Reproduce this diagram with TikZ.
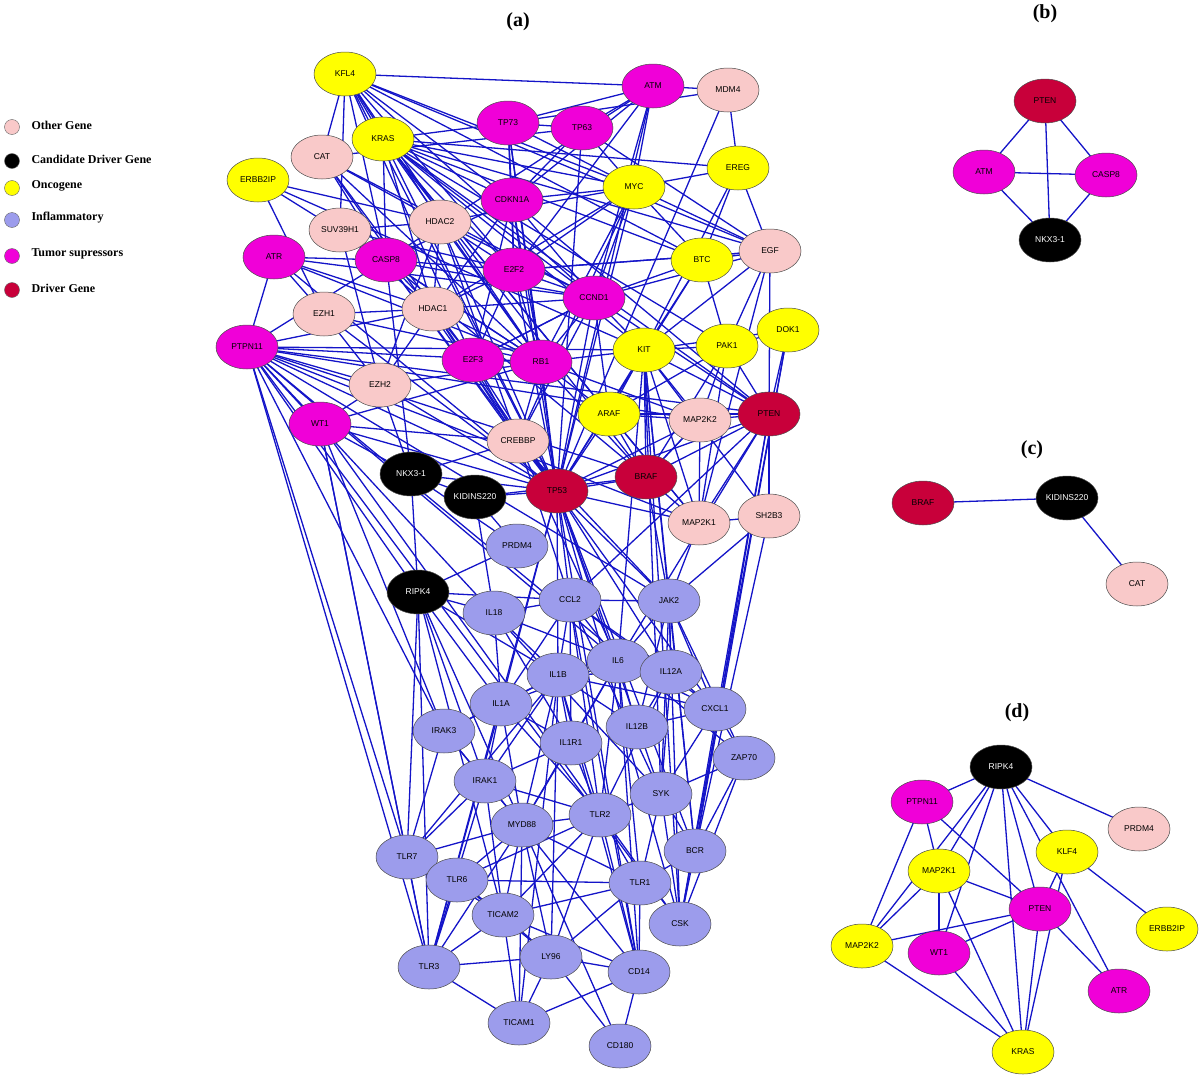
\documentclass[tikz,border=0pt]{standalone}
\usepackage{fontspec}
\setmainfont{Liberation Sans}
\newfontfamily\ser{Liberation Serif}
\usetikzlibrary{backgrounds,shapes.geometric}
\definecolor{cpk}{HTML}{F9C9C9}
\definecolor{cyl}{HTML}{FFFF00}
\definecolor{clv}{HTML}{9C9CEC}
\definecolor{cmg}{HTML}{F000D8}
\definecolor{crd}{HTML}{C8003A}
\definecolor{ced}{HTML}{1414C8}
\begin{document}
\begin{tikzpicture}[x=1pt,y=-1pt,
 g/.style={ellipse,draw=black!70,line width=0.5pt,minimum width=62pt,minimum height=44pt,inner sep=0pt,font=\fontsize{8.5}{9}\selectfont},
 pk/.style={g,fill=cpk}, yl/.style={g,fill=cyl}, lv/.style={g,fill=clv},
 mg/.style={g,fill=cmg}, rd/.style={g,fill=crd}, bk/.style={g,fill=black,text=white},
 e/.style={draw=ced,line width=1.3pt},
 lab/.style={font=\ser\bfseries\fontsize{20}{22}\selectfont},
 leg/.style={anchor=west,font=\ser\bfseries\fontsize{12}{13}\selectfont}]
\useasboundingbox (0,0) rectangle (1200,1076);
% legend
\foreach \y/\c/\t in {127/cpk/Other Gene,161/black/Candidate Driver Gene,188/cyl/Oncogene,220/clv/Inflammatory,256/cmg/Tumor supressors,290/crd/Driver Gene}
 {\fill[\c,draw=black!60,line width=0.4pt] (12,\y) circle (7.5); \node[leg] at (28,\y-2) {\t};}
\node[lab] (la) at (518,22) {(a)};
\node[lab] (lb) at (1045,14) {(b)};
\node[lab] (lc) at (1032,450) {(c)};
\node[lab] (ld) at (1017,713) {(d)};
% panel a
\node[yl] (KFL4) at (345,74) {KFL4};
\node[mg] (ATM) at (653,86) {ATM};
\node[pk] (MDM4) at (728,90) {MDM4};
\node[mg] (TP73) at (508,123) {TP73};
\node[mg] (TP63) at (582,128) {TP63};
\node[pk] (CAT) at (322,157) {CAT};
\node[yl] (KRAS) at (383,139) {KRAS};
\node[yl] (EREG) at (738,168) {EREG};
\node[yl] (ERBB2IP) at (258,180) {ERBB2IP};
\node[yl] (MYC) at (634,187) {MYC};
\node[mg] (CDKN1A) at (512,200) {CDKN1A};
\node[pk] (SUV39H1) at (340,230) {SUV39H1};
\node[pk] (HDAC2) at (440,222) {HDAC2};
\node[mg] (ATR) at (274,257) {ATR};
\node[mg] (CASP8) at (386,260) {CASP8};
\node[mg] (E2F2) at (514,270) {E2F2};
\node[yl] (BTC) at (702,260) {BTC};
\node[pk] (EGF) at (770,251) {EGF};
\node[mg] (CCND1) at (594,298) {CCND1};
\node[pk] (EZH1) at (324,314) {EZH1};
\node[pk] (HDAC1) at (433,309) {HDAC1};
\node[mg] (PTPN11) at (247,347) {PTPN11};
\node[mg] (E2F3) at (473,360) {E2F3};
\node[mg] (RB1) at (541,362) {RB1};
\node[yl] (KIT) at (644,350) {KIT};
\node[yl] (PAK1) at (727,346) {PAK1};
\node[yl] (DOK1) at (788,330) {DOK1};
\node[pk] (EZH2) at (380,385) {EZH2};
\node[mg] (WT1) at (320,424) {WT1};
\node[yl] (ARAF) at (609,414) {ARAF};
\node[pk] (MAP2K2) at (700,420) {MAP2K2};
\node[rd] (PTEN) at (769,414) {PTEN};
\node[pk] (CREBBP) at (518,441) {CREBBP};
\node[bk] (NKX) at (411,474) {NKX3-1};
\node[bk] (KID) at (475,497) {KIDINS220};
\node[rd] (TP53) at (557,491) {TP53};
\node[rd] (BRAF) at (646,477) {BRAF};
\node[pk] (MAP2K1) at (699,523) {MAP2K1};
\node[pk] (SH2B3) at (769,516) {SH2B3};
\node[lv] (PRDM4) at (517,546) {PRDM4};
\node[bk] (RIPK4) at (418,592) {RIPK4};
\node[lv] (IL18) at (494,613) {IL18};
\node[lv] (CCL2) at (570,600) {CCL2};
\node[lv] (JAK2) at (669,601) {JAK2};
\node[lv] (IL6) at (618,661) {IL6};
\node[lv] (IL1B) at (558,675) {IL1B};
\node[lv] (IL12A) at (671,672) {IL12A};
\node[lv] (IL1A) at (501,704) {IL1A};
\node[lv] (CXCL1) at (715,709) {CXCL1};
\node[lv] (IRAK3) at (444,731) {IRAK3};
\node[lv] (IL12B) at (637,727) {IL12B};
\node[lv] (IL1R1) at (571,743) {IL1R1};
\node[lv] (ZAP70) at (744,758) {ZAP70};
\node[lv] (IRAK1) at (485,781) {IRAK1};
\node[lv] (SYK) at (661,794) {SYK};
\node[lv] (MYD88) at (522,825) {MYD88};
\node[lv] (TLR2) at (600,815) {TLR2};
\node[lv] (TLR7) at (407,857) {TLR7};
\node[lv] (BCR) at (695,851) {BCR};
\node[lv] (TLR6) at (457,880) {TLR6};
\node[lv] (TLR1) at (640,883) {TLR1};
\node[lv] (TICAM2) at (503,915) {TICAM2};
\node[lv] (CSK) at (680,924) {CSK};
\node[lv] (TLR3) at (429,967) {TLR3};
\node[lv] (LY96) at (551,957) {LY96};
\node[lv] (CD14) at (639,972) {CD14};
\node[lv] (TICAM1) at (519,1023) {TICAM1};
\node[lv] (CD180) at (620,1046) {CD180};
% panel b
\node[rd] (bPTEN) at (1045,101) {PTEN};
\node[mg] (bATM) at (984,172) {ATM};
\node[mg] (bCASP8) at (1106,175) {CASP8};
\node[bk] (bNKX) at (1050,240) {NKX3-1};
% panel c
\node[rd] (cBRAF) at (923,503) {BRAF};
\node[bk] (cKID) at (1067,498) {KIDINS220};
\node[pk] (cCAT) at (1137,584) {CAT};
% panel d
\node[bk] (dRIPK4) at (1001,767) {RIPK4};
\node[mg] (dPTPN11) at (922,802) {PTPN11};
\node[pk] (dPRDM4) at (1139,829) {PRDM4};
\node[yl] (dKLF4) at (1067,852) {KLF4};
\node[yl] (dMAP2K1) at (939,871) {MAP2K1};
\node[mg] (dPTEN) at (1040,909) {PTEN};
\node[yl] (dERBB2IP) at (1167,929) {ERBB2IP};
\node[yl] (dMAP2K2) at (862,946) {MAP2K2};
\node[mg] (dWT1) at (939,953) {WT1};
\node[mg] (dATR) at (1119,991) {ATR};
\node[yl] (dKRAS) at (1023,1052) {KRAS};
\begin{pgfonlayer}{background}
\foreach \a/\l in {
KFL4/{KRAS,CAT,CDKN1A,HDAC2,E2F2,CASP8,MYC,TP53,RB1,E2F3,CCND1,ATM,EGF,BTC,SUV39H1},
KRAS/{TP73,MYC,EREG,EGF,BTC,CDKN1A,CCND1,E2F2,KIT,RB1,TP53,BRAF,MAP2K1,ARAF,PAK1,HDAC1,CASP8,PTEN},
CAT/{CASP8,TP53,HDAC2,E2F3,CCND1,TP63,RB1},
ATM/{TP73,TP63,MYC,CDKN1A,TP53,MDM4,CASP8,CCND1,E2F2},
MDM4/{TP53,TP73,EREG},
TP73/{TP63,CDKN1A,TP53,MYC,E2F2,RB1},
TP63/{CDKN1A,TP53,EGF,MYC},
EREG/{EGF,BTC,MYC,KIT},
MYC/{CDKN1A,CCND1,E2F2,TP53,RB1,HDAC1,HDAC2,BTC,EGF,CREBBP},
CDKN1A/{CCND1,E2F2,E2F3,RB1,TP53,HDAC1,CASP8,PTEN},
ERBB2IP/{CASP8,HDAC2,KIT,EZH1},
SUV39H1/{HDAC1,HDAC2,RB1,EZH2,E2F2},
HDAC2/{HDAC1,RB1,E2F2,CCND1,TP53,CREBBP,EZH2},
ATR/{CASP8,TP53,EZH1,RB1,CCND1,HDAC1},
CASP8/{TP53,E2F2,CCND1,RB1,HDAC1,BRAF,CREBBP,NKX},
E2F2/{E2F3,RB1,CCND1,TP53,HDAC1,EGF},
BTC/{EGF,KIT,PAK1,CCND1,TP53},
EGF/{KIT,PTEN,MAP2K1,PAK1,CCND1,E2F2},
CCND1/{RB1,E2F3,TP53,HDAC1,KIT,ARAF,CREBBP,PTEN},
EZH1/{EZH2,HDAC1,TP53,RB1},
HDAC1/{RB1,E2F3,TP53,CREBBP,EZH2},
PTPN11/{KIT,CASP8,HDAC1,MAP2K1,BRAF,WT1,TLR7,RIPK4,IL6,JAK2,PTEN,EZH2,SYK,ZAP70,CSK,MAP2K2,RB1,TP53,IRAK3,ATR,TLR3},
E2F3/{RB1,TP53,CREBBP,CCND1},
RB1/{TP53,CREBBP,BRAF,MAP2K2,ARAF,KIT},
KIT/{PAK1,MAP2K2,BRAF,PTEN,MAP2K1,SH2B3,JAK2,ARAF,TP53,SYK,BCR,IL6,CSK},
PAK1/{MAP2K1,MAP2K2,BRAF,ARAF,PTEN,DOK1},
DOK1/{KIT,PTEN,BCR,CSK},
EZH2/{WT1,RB1,TP53,NKX},
WT1/{TP53,CREBBP,NKX,RB1,TLR7,CSK,TLR3,IRAK3},
ARAF/{MAP2K2,BRAF,MAP2K1,PTEN,TP53},
MAP2K2/{BRAF,PTEN,MAP2K1,TP53},
PTEN/{TP53,BRAF,CSK,BCR,SH2B3,MAP2K1,CCL2,IL6},
CREBBP/{TP53,NKX,IL6,CCL2,JAK2},
NKX/{KID,TP53,RIPK4,PRDM4},
KID/{BRAF,TP53,PRDM4,IL18},
TP53/{BRAF,IL6,JAK2,CCL2,IL1B,TLR3,CXCL1,IL12A,SYK,BCR,CD14,CSK,IL1A,MAP2K1},
BRAF/{MAP2K1,MAP2K2,JAK2},
MAP2K1/{JAK2,SH2B3},
SH2B3/{JAK2,BCR},
RIPK4/{PRDM4,IL1B,CCL2,IL18,TLR7,TLR3,IL1A,IRAK1,MYD88,TICAM2},
CCL2/{IL6,IL1B,JAK2,IL18,IL12A,CXCL1,IL1A,IL1R1,SYK,CD14,TLR2},
JAK2/{IL6,IL12A,IL12B,SYK,CXCL1,CSK,ZAP70,BCR},
IL6/{IL1B,IL12A,IL12B,IL1A,IL1R1,CXCL1,TLR2,CD14,MYD88,TLR1,IL18},
IL1B/{IL1A,IL1R1,IL18,IL12A,IL12B,MYD88,IRAK1,IRAK3,TLR2,CD14,LY96,TICAM1,TLR7,CXCL1},
IL12A/{IL12B,CXCL1,SYK,TLR2},
IL1A/{IL1R1,IRAK1,IRAK3,MYD88,IL18,TLR2,TLR3},
CXCL1/{ZAP70,SYK,IL12B},
IRAK3/{IRAK1,MYD88,TLR7},
IL1R1/{IRAK1,MYD88,IL18,TLR2},
ZAP70/{SYK,CSK,BCR},
IRAK1/{MYD88,TLR2,TLR7,TLR3,TICAM2},
SYK/{BCR,CSK,TLR1,TLR2},
MYD88/{TLR2,TLR7,TLR6,TLR1,TICAM2,LY96,TLR3,CD14,TICAM1,CD180},
TLR2/{TLR1,TLR6,CD14,LY96,TICAM2},
TLR7/{TLR6,TLR3,TICAM2},
BCR/{CSK,TLR1},
TLR6/{TICAM2,TLR3,LY96,TLR1},
TLR1/{CD14,LY96,TICAM2},
TICAM2/{TLR3,LY96,CD14,TICAM1},
TLR3/{LY96,TICAM1},
LY96/{CD14,TICAM1,CD180},
CD14/{CD180,TICAM1},
bPTEN/{bATM,bCASP8,bNKX},
bATM/{bCASP8,bNKX},
bCASP8/{bNKX},
cKID/{cBRAF,cCAT},
dRIPK4/{dPTPN11,dPRDM4,dKLF4,dMAP2K1,dPTEN,dMAP2K2,dWT1,dATR,dKRAS},
dPTPN11/{dMAP2K1,dPTEN,dMAP2K2},
dKLF4/{dPTEN,dERBB2IP,dKRAS},
dMAP2K1/{dPTEN,dMAP2K2,dWT1,dKRAS},
dPTEN/{dATR,dMAP2K2,dWT1,dKRAS},
dMAP2K2/{dKRAS},
dWT1/{dKRAS}}
 {\foreach \b in \l {\draw[e] (\a.center) -- (\b.center);}}
\end{pgfonlayer}
\end{tikzpicture}
\end{document}
